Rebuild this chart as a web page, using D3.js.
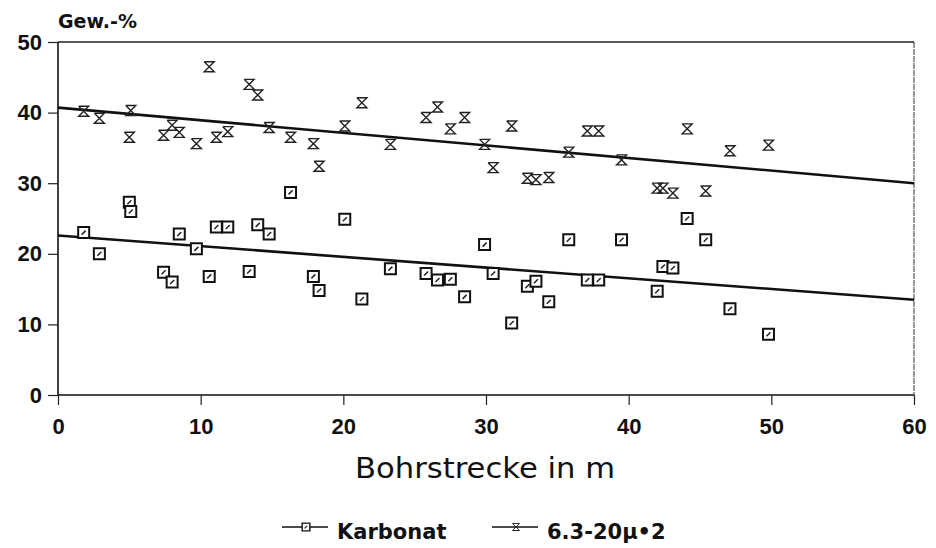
<!DOCTYPE html>
<html>
<head>
<meta charset="utf-8">
<script src="https://cdn.jsdelivr.net/npm/d3@7"></script>
<style>
  body { margin: 0; background: #fff; }
  svg { font-family: "DejaVu Sans", "Liberation Sans", Arial, sans-serif; }
</style>
</head>
<body>
<svg width="936" height="548"></svg>
<script>
// Bohrstrecke (m) for each sample
const depth = [1.8, 2.9, 5.0, 5.1, 7.4, 8.0, 8.5, 9.7, 10.6, 11.1, 11.9, 13.4, 14.0, 14.8, 16.3, 17.9, 18.3,
    20.1, 21.3, 23.3, 25.8, 26.6, 27.5, 28.5, 29.9, 30.5, 31.8, 32.9, 33.5, 34.4, 35.8, 37.1, 37.9,
    39.5, 42.0, 42.4, 43.1, 44.1, 45.4, 47.1, 49.8];

// Karbonat (Gew.-%)
const karbonat = [23.0, 20.0, 27.3, 26.0, 17.4, 16.0, 22.8, 20.7, 16.8, 23.8, 23.8, 17.5, 24.1, 22.8, 28.7, 16.8, 14.8,
    24.9, 13.6, 17.9, 17.2, 16.3, 16.4, 13.9, 21.3, 17.2, 10.2, 15.4, 16.1, 13.2, 22.0, 16.3, 16.3,
    22.0, 14.7, 18.2, 18.0, 25.0, 22.0, 12.2, 8.6];

// 6.3-20µ fraction * 2
const fraction = [40.2, 39.2, 36.5, 40.3, 36.8, 38.2, 37.2, 35.6, 46.5, 36.5, 37.3, 44.0, 42.5, 37.9, 36.5, 35.6, 32.4,
    38.1, 41.4, 35.5, 39.3, 40.8, 37.7, 39.3, 35.5, 32.2, 38.1, 30.7, 30.5, 30.8, 34.4, 37.4, 37.4,
    33.3, 29.3, 29.3, 28.6, 37.7, 28.9, 34.6, 35.4];

// regression lines (start / end values)
const trendX = [0, 60];
const karbonatTrend = [22.6, 13.5];
const fractionTrend = [40.7, 30.0];

const xTicks = [0, 10, 20, 30, 40, 50, 60];
const yTicks = [0, 10, 20, 30, 40, 50];

const svg = d3.select('svg');
const margin = { top: 42, right: 22, bottom: 153, left: 58 };
const width = 936 - margin.left - margin.right;
const height = 548 - margin.top - margin.bottom;

const g = svg.append('g')
    .attr('transform', `translate(${margin.left},${margin.top})`);

const x = d3.scaleLinear().domain([0, 60]).range([0, width]);
const y = d3.scaleLinear().domain([0, 50]).range([height, 0]);

// frame (top and right thin)
g.append('line').attr('x1', 0).attr('x2', width).attr('y1', 0).attr('y2', 0)
    .attr('stroke', '#222').attr('stroke-width', 1.3);
g.append('line').attr('x1', width).attr('x2', width).attr('y1', 0).attr('y2', height)
    .attr('stroke', '#333').attr('stroke-width', 1).attr('stroke-dasharray', '6,1');

// axes
const xAxis = g.append('g')
    .attr('transform', `translate(0,${height})`)
    .call(d3.axisBottom(x).tickValues(xTicks).tickSize(10).tickPadding(13));
const yAxis = g.append('g')
    .call(d3.axisLeft(y).tickValues(yTicks).tickSize(10).tickPadding(6));

[xAxis, yAxis].forEach(a => {
    a.select('.domain').attr('stroke', '#111').attr('stroke-width', 1.6);
    a.selectAll('.tick line').attr('stroke', '#222').attr('stroke-width', 1.2);
    a.selectAll('.tick text')
        .attr('fill', '#111')
        .style('font-size', '22px')
        .style('font-weight', 'bold');
});
xAxis.select('.domain').attr('d', `M0,0H${width}`);
yAxis.select('.domain').attr('d', `M0,${height}V0`);

// labels
g.append('text')
    .attr('x', 0).attr('y', -14)
    .attr('fill', '#111')
    .style('font-size', '19px').style('font-weight', 'bold')
    .text('Gew.-%');

g.append('text')
    .attr('x', 485 - margin.left).attr('y', height + 83)
    .attr('text-anchor', 'middle')
    .attr('fill', '#111')
    .attr('textLength', 260)
    .attr('lengthAdjust', 'spacingAndGlyphs')
    .style('font-size', '29px')
    .text('Bohrstrecke in m');

// regression lines
const line = d3.line().x(d => x(d[0])).y(d => y(d[1]));
[karbonatTrend, fractionTrend].forEach(t => {
    g.append('path')
        .datum(trendX.map((v, i) => [v, t[i]]))
        .attr('d', line)
        .attr('fill', 'none')
        .attr('stroke', '#111')
        .attr('stroke-width', 2.6);
});

// marker shapes
const squarePath = 'M-5.5,-5.5H5.5V5.5H-5.5Z';
const squareInner = 'M-2,2L2,-2';
const glassPath = 'M-5,-5H5L-5,5H5L-5,-5';

function drawSquare(sel) {
    sel.append('path').attr('d', squarePath)
        .attr('fill', '#fff').attr('stroke', '#111').attr('stroke-width', 2);
    sel.append('path').attr('d', squareInner)
        .attr('fill', 'none').attr('stroke', '#222').attr('stroke-width', 1.5);
}
function drawGlass(sel) {
    sel.append('path').attr('d', glassPath)
        .attr('fill', 'none').attr('stroke', '#222').attr('stroke-width', 1.4);
}

g.append('g').selectAll('g')
    .data(depth.map((d, i) => [d, karbonat[i]]))
    .enter().append('g')
    .attr('transform', d => `translate(${x(d[0])},${y(d[1])})`)
    .call(drawSquare);

g.append('g').selectAll('g')
    .data(depth.map((d, i) => [d, fraction[i]]))
    .enter().append('g')
    .attr('transform', d => `translate(${x(d[0])},${y(d[1])})`)
    .call(drawGlass);

// legend
const legendItems = [
    { name: 'Karbonat', x: 282, draw: drawSquare },
    { name: '6.3-20\u00b5\u20222', x: 492, draw: drawGlass }
];
const legend = svg.append('g').attr('transform', 'translate(0,527)');
const item = legend.selectAll('g')
    .data(legendItems)
    .enter().append('g')
    .attr('transform', d => `translate(${d.x},0)`);
item.append('line')
    .attr('x1', 0).attr('x2', 46).attr('y1', 0).attr('y2', 0)
    .attr('stroke', '#111').attr('stroke-width', 1.6);
item.each(function (d) {
    const m = d3.select(this).append('g')
        .attr('transform', 'translate(24,0) scale(0.7)');
    d.draw(m);
});
item.append('text')
    .attr('x', 55).attr('y', 12)
    .attr('fill', '#111')
    .style('font-size', '21px').style('font-weight', 'bold')
    .text(d => d.name);
</script>
</body>
</html>
